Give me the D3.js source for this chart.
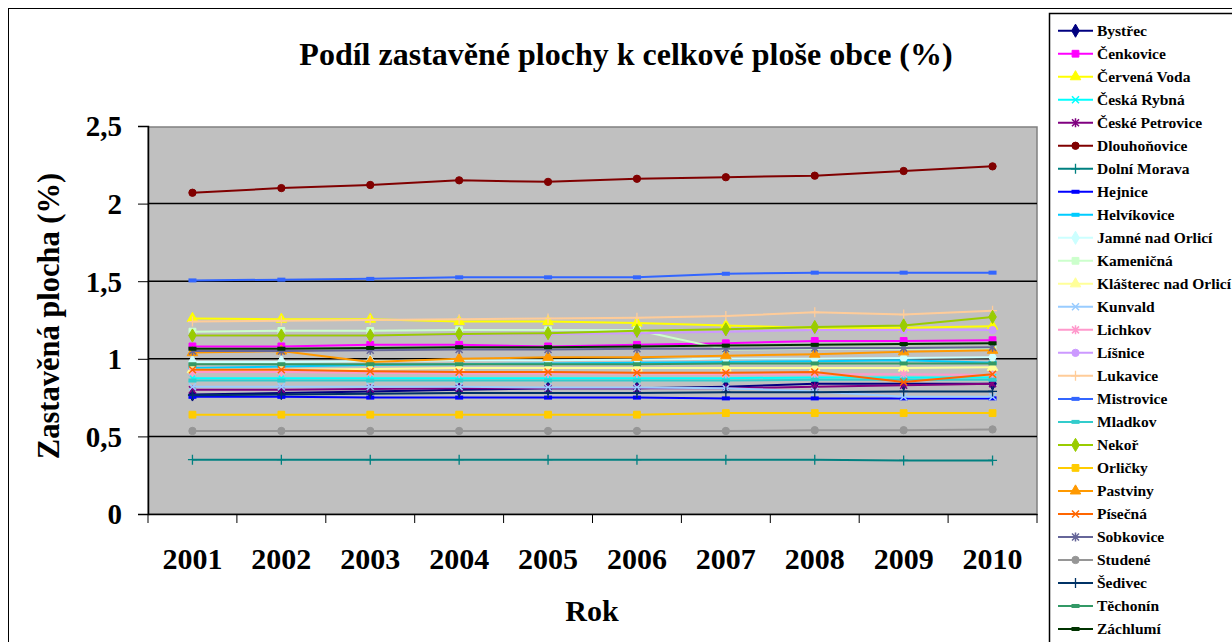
<!DOCTYPE html>
<html><head><meta charset="utf-8">
<script src="https://cdn.jsdelivr.net/npm/d3@7"></script>
<style>
html,body{margin:0;padding:0;background:#fff;}
svg{display:block;font-family:"Liberation Serif","Times New Roman",serif;font-weight:bold;}
</style></head>
<body><svg id="c" width="1232" height="642"></svg>
<script>
const years = ["2001","2002","2003","2004","2005","2006","2007","2008","2009","2010"];
const yTicks = [0, 0.5, 1, 1.5, 2, 2.5];
const names = ["Bystřec","Čenkovice","Červená Voda","Česká Rybná","České Petrovice","Dlouhoňovice","Dolní Morava","Hejnice","Helvíkovice","Jamné nad Orlicí","Kameničná","Klášterec nad Orlicí","Kunvald","Lichkov","Líšnice","Lukavice","Mistrovice","Mladkov","Nekoř","Orličky","Pastviny","Písečná","Sobkovice","Studené","Šedivec","Těchonín","Záchlumí"];
const colors = ["#000080","#FF00FF","#FFFF00","#00FFFF","#800080","#800000","#008080","#0000FF","#00CCFF","#CCFFFF","#CCFFCC","#FFFF99","#99CCFF","#FF99CC","#CC99FF","#FFCC99","#3366FF","#33CCCC","#99CC00","#FFCC00","#FF9900","#FF6600","#666699","#969696","#003366","#339966","#003300"];
const markers = ["diamond","square","triangle","x","star","circle","plus","dash","dash","diamond","square","triangle","x","star","circle","plus","dash","dash","diamond","square","triangle","x","star","circle","plus","dash","dash"];

const bystrec      = [0.77,0.78,0.79,0.80,0.81,0.81,0.82,0.84,0.84,0.84];
const cenkovice    = [1.08,1.08,1.09,1.09,1.08,1.09,1.10,1.115,1.115,1.12];
const cervenaVoda  = [1.26,1.255,1.255,1.24,1.24,1.23,1.215,1.20,1.20,1.21];
const ceskaRybna   = [0.875,0.875,0.875,0.875,0.875,0.875,0.875,0.88,0.88,0.88];
const ceskePetrov  = [0.80,0.80,0.805,0.81,0.81,0.81,0.81,0.82,0.83,0.84];
const dlouhonovice = [2.07,2.10,2.12,2.15,2.14,2.16,2.17,2.18,2.21,2.24];
const dolniMorava  = [0.35,0.35,0.35,0.35,0.35,0.35,0.35,0.35,0.345,0.345];
const hejnice      = [0.755,0.755,0.75,0.75,0.75,0.75,0.745,0.745,0.745,0.745];
const helvikovice  = [0.94,0.95,0.96,0.965,0.97,0.975,0.98,0.985,0.99,0.975];
const jamne        = [0.98,0.98,0.985,0.99,0.99,0.995,1.0,1.0,1.005,1.01];
const kamenicna    = [1.175,1.18,1.18,1.185,1.185,1.185,1.06,1.065,1.065,1.065];
const klasterec    = [0.93,0.93,0.935,0.94,0.94,0.94,0.94,0.94,0.94,0.945];
const kunvald      = [0.82,0.82,0.82,0.82,0.815,0.815,0.81,0.79,0.755,0.755];
const lichkov      = [0.915,0.915,0.91,0.905,0.905,0.905,0.90,0.90,0.90,0.895];
const lisnice      = [1.15,1.15,1.15,1.155,1.16,1.165,1.175,1.185,1.185,1.185];
const lukavice     = [1.24,1.245,1.25,1.255,1.26,1.265,1.275,1.30,1.285,1.31];
const mistrovice   = [1.505,1.51,1.515,1.525,1.525,1.525,1.548,1.555,1.555,1.555];
const mladkov      = [0.86,0.86,0.86,0.86,0.86,0.86,0.86,0.865,0.865,0.865];
const nekor        = [1.15,1.15,1.15,1.16,1.165,1.18,1.19,1.205,1.215,1.27];
const orlicky      = [0.64,0.64,0.64,0.64,0.64,0.64,0.65,0.65,0.65,0.65];
const pastviny     = [1.04,1.05,0.98,1.0,1.01,1.01,1.02,1.03,1.045,1.055];
const pisecna      = [0.93,0.93,0.92,0.915,0.915,0.91,0.91,0.915,0.85,0.90];
const sobkovice    = [1.05,1.05,1.055,1.06,1.06,1.065,1.065,1.07,1.07,1.075];
const studene      = [0.535,0.535,0.535,0.535,0.535,0.535,0.535,0.54,0.54,0.545];
const sedivec      = [0.765,0.77,0.775,0.78,0.78,0.78,0.785,0.785,0.79,0.79];
const techonin     = [0.965,0.965,0.965,0.965,0.965,0.965,0.97,0.97,0.97,0.97];
const zachlumi     = [1.065,1.065,1.07,1.075,1.075,1.08,1.085,1.09,1.095,1.10];
const allValues = [bystrec,cenkovice,cervenaVoda,ceskaRybna,ceskePetrov,dlouhonovice,dolniMorava,hejnice,helvikovice,jamne,kamenicna,klasterec,kunvald,lichkov,lisnice,lukavice,mistrovice,mladkov,nekor,orlicky,pastviny,pisecna,sobkovice,studene,sedivec,techonin,zachlumi];

const series = names.map((n,i)=>({name:n,color:colors[i],marker:markers[i],values:allValues[i]}));

const svg = d3.select("#c");
// outer chart frame
svg.append("rect").attr("x",8.5).attr("y",8.5).attr("width",1240).attr("height",640)
  .attr("fill","#fff").attr("stroke","#000").attr("stroke-width",1);

const L=148, R=1037, T=126, B=514;
const x = d3.scaleBand().domain(years).range([L,R]);
const y = d3.scaleLinear().domain([0,2.5]).range([B,T]);
const cx = d => x(d)+x.bandwidth()/2;

// plot area
svg.append("rect").attr("x",L).attr("y",T+1).attr("width",R-L).attr("height",B-T-1)
  .attr("fill","#C0C0C0").attr("stroke","#808080").attr("stroke-width",1.5);

// gridlines
svg.append("g").selectAll("line").data(yTicks.filter(v=>v>0 && v<2.5)).join("line")
  .attr("x1",L).attr("x2",R).attr("y1",d=>y(d)).attr("y2",d=>y(d))
  .attr("stroke","#000").attr("stroke-width",1.5);

// y axis
const yAxis = d3.axisLeft(y).tickValues(yTicks).tickSize(10).tickPadding(16)
  .tickFormat(d=>String(d).replace(".",","));
const gy = svg.append("g").attr("transform",`translate(${L},0)`).call(yAxis);
gy.select(".domain").attr("stroke","#000").attr("stroke-width",1.5);
gy.selectAll(".tick line").attr("stroke","#000").attr("stroke-width",1);
gy.selectAll("text").attr("font-family","Liberation Serif").attr("font-weight","bold")
  .attr("font-size",29).attr("fill","#000").attr("dy","0.34em");

// x axis
const xAxis = d3.axisBottom(x).tickSize(0).tickPadding(34);
const gx = svg.append("g").attr("transform",`translate(0,${B})`).call(xAxis);
gx.select(".domain").attr("stroke","#000").attr("stroke-width",1.5);
gx.selectAll("text").attr("font-family","Liberation Serif").attr("font-weight","bold")
  .attr("font-size",30).attr("fill","#000");
// category boundary ticks
const bounds = years.map(d=>x(d)).concat([R]);
gx.append("g").selectAll("line").data(bounds).join("line")
  .attr("x1",d=>d).attr("x2",d=>d).attr("y1",0).attr("y2",9)
  .attr("stroke","#000").attr("stroke-width",1);

// titles
svg.append("text").attr("x",626).attr("y",65).attr("text-anchor","middle")
  .attr("font-size",32).text("Podíl zastavěné plochy k celkové ploše obce (%)");
svg.append("text").attr("x",592).attr("y",621).attr("text-anchor","middle")
  .attr("font-size",30).text("Rok");
svg.append("text").attr("transform","translate(59,316) rotate(-90)").attr("text-anchor","middle")
  .attr("font-size",30.5).text("Zastavěná plocha (%)");

// marker drawing
function drawMarker(g, type, color, size){
  const s = size||1;
  switch(type){
    case "diamond": g.append("path").attr("d",d3.symbol(d3.symbolDiamond,50*s)()).attr("fill",color).attr("stroke",color); break;
    case "square": g.append("path").attr("d",d3.symbol(d3.symbolSquare,46*s)()).attr("fill",color).attr("stroke",color); break;
    case "triangle": g.append("path").attr("d",d3.symbol(d3.symbolTriangle,48*s)()).attr("fill",color).attr("stroke",color); break;
    case "circle": g.append("path").attr("d",d3.symbol(d3.symbolCircle,42*s)()).attr("fill",color).attr("stroke",color); break;
    case "x": g.append("path").attr("d","M-3.5,-3.5L3.5,3.5M-3.5,3.5L3.5,-3.5").attr("fill","none").attr("stroke",color).attr("stroke-width",1.5); break;
    case "star": g.append("path").attr("d","M-3.5,-3.5L3.5,3.5M-3.5,3.5L3.5,-3.5M0,-4.5L0,4.5").attr("fill","none").attr("stroke",color).attr("stroke-width",1.5); break;
    case "plus": g.append("path").attr("d","M-4.5,0L4.5,0M0,-5L0,5").attr("fill","none").attr("stroke",color).attr("stroke-width",1.3); break;
    case "dash": g.append("rect").attr("x",-4).attr("y",-2).attr("width",8).attr("height",4).attr("fill",color); break;
  }
}

const line = d3.line().x((v,i)=>cx(years[i])).y(v=>y(v));
const plot = svg.append("g");
series.forEach(s=>{
  const g = plot.append("g");
  g.append("path").attr("d",line(s.values)).attr("fill","none").attr("stroke",s.color).attr("stroke-width",2);
  s.values.forEach((v,i)=>{
    const m = g.append("g").attr("transform",`translate(${cx(years[i])},${y(v)})`);
    drawMarker(m, s.marker, s.color);
  });
});

// legend
const lg = svg.append("g");
lg.append("rect").attr("x",1049.5).attr("y",13.5).attr("width",200).attr("height",640)
  .attr("fill","#fff").attr("stroke","#000").attr("stroke-width",1.5);
const ly = d3.scaleLinear().domain([0,names.length-1]).range([30.7,629]);
series.forEach((s,i)=>{
  const g = lg.append("g").attr("transform",`translate(0,${ly(i)})`);
  g.append("line").attr("x1",1058).attr("x2",1093).attr("y1",0).attr("y2",0)
    .attr("stroke",s.color).attr("stroke-width",2);
  const m = g.append("g").attr("transform","translate(1075.5,0)");
  drawMarker(m, s.marker, s.color);
  g.append("text").attr("x",1097).attr("y",0).attr("dy","0.35em")
    .attr("font-size",15.5).text(s.name);
});
</script></body></html>
